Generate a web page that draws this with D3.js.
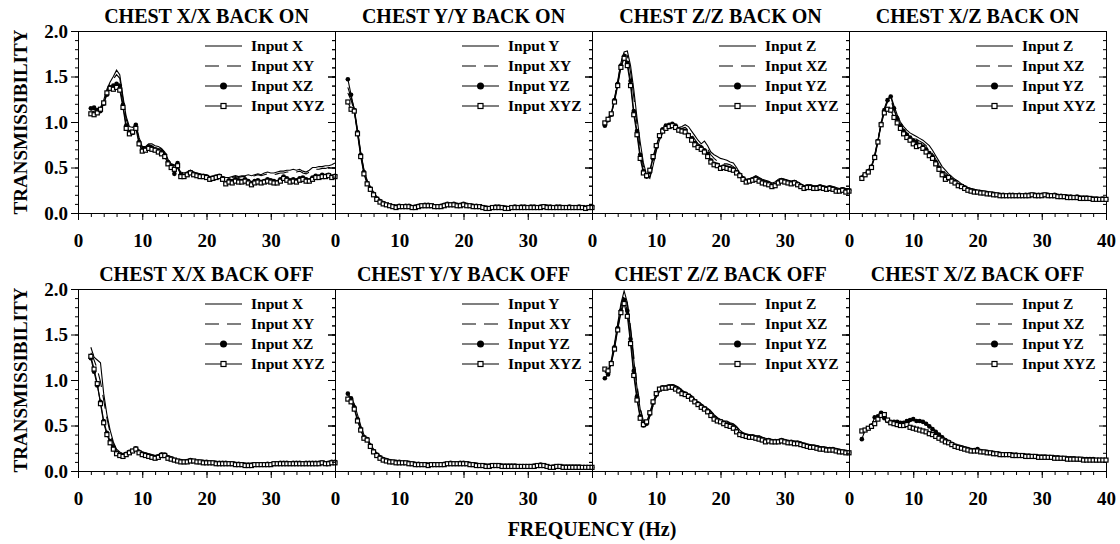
<!DOCTYPE html>
<html>
<head>
<meta charset="utf-8">
<script src="https://cdn.jsdelivr.net/npm/d3@7"></script>
<style>
  body { margin: 0; background: #fff; }
  svg { display: block; }
  text { font-family: "Liberation Serif", "Times New Roman", serif; font-weight: bold; fill: #000; }
</style>
</head>
<body>
<script>
// frequency (Hz) shared by every curve
var FREQ = [2,2.5,3,3.5,4,4.5,5,5.5,6,6.5,
  7,7.5,8,8.5,9,9.5,10,10.5,11,11.5,
  12,12.5,13,13.5,14,14.5,15,15.5,16,16.5,
  17,17.5,18,18.5,19,19.5,20,20.5,21,21.5,
  22,22.5,23,23.5,24,24.5,25,25.5,26,26.5,
  27,27.5,28,28.5,29,29.5,30,30.5,31,31.5,
  32,32.5,33,33.5,34,34.5,35,35.5,36,36.5,
  37,37.5,38,38.5,39,39.5,40];

var TITLES = ["CHEST X/X BACK ON","CHEST Y/Y BACK ON","CHEST Z/Z BACK ON","CHEST X/Z BACK ON",
  "CHEST X/X BACK OFF","CHEST Y/Y BACK OFF","CHEST Z/Z BACK OFF","CHEST X/Z BACK OFF"];
var LEG_X = ["Input X","Input XY","Input XZ","Input XYZ"];
var LEG_Y = ["Input Y","Input XY","Input YZ","Input XYZ"];
var LEG_Z = ["Input Z","Input XZ","Input YZ","Input XYZ"];
var X_TICKS = [0,10,20,30,40];
var Y_TICKS = [0,0.5,1,1.5,2];

// ---- CHEST X/X BACK ON
var p1_X = [1.10,1.12,1.12,1.16,1.24,1.36,1.44,1.50,1.57,1.52,
  1.28,1.06,0.95,0.94,0.98,0.83,0.73,0.73,0.76,0.76,
  0.74,0.73,0.71,0.67,0.59,0.54,0.53,0.50,0.45,0.44,
  0.45,0.47,0.45,0.44,0.43,0.42,0.42,0.40,0.40,0.41,
  0.42,0.40,0.39,0.39,0.40,0.41,0.40,0.41,0.41,0.42,
  0.41,0.42,0.43,0.42,0.44,0.45,0.44,0.44,0.45,0.46,
  0.46,0.47,0.47,0.48,0.47,0.48,0.46,0.45,0.47,0.50,
  0.50,0.51,0.51,0.52,0.52,0.53,0.55];
var p1_XY = [1.13,1.14,1.13,1.15,1.22,1.34,1.42,1.47,1.52,1.48,
  1.25,1.03,0.93,0.92,0.96,0.81,0.72,0.72,0.75,0.74,
  0.73,0.72,0.70,0.66,0.58,0.53,0.52,0.49,0.44,0.43,
  0.44,0.46,0.44,0.43,0.42,0.41,0.41,0.39,0.39,0.40,
  0.41,0.39,0.38,0.38,0.39,0.40,0.39,0.40,0.40,0.41,
  0.40,0.41,0.42,0.41,0.42,0.43,0.43,0.42,0.43,0.44,
  0.44,0.45,0.45,0.46,0.45,0.46,0.44,0.43,0.45,0.47,
  0.48,0.48,0.49,0.49,0.50,0.50,0.51];
var p1_XZ = [1.15,1.16,1.13,1.12,1.20,1.30,1.38,1.40,1.42,1.40,
  1.19,0.96,0.89,0.88,0.97,0.78,0.69,0.70,0.73,0.72,
  0.70,0.69,0.67,0.64,0.56,0.52,0.43,0.55,0.42,0.41,
  0.43,0.45,0.43,0.42,0.41,0.41,0.40,0.38,0.39,0.40,
  0.41,0.38,0.33,0.36,0.35,0.37,0.36,0.35,0.37,0.35,
  0.33,0.35,0.36,0.34,0.35,0.37,0.36,0.35,0.34,0.37,
  0.40,0.38,0.36,0.37,0.36,0.38,0.39,0.37,0.36,0.39,
  0.41,0.40,0.42,0.41,0.42,0.40,0.41];
var p1_XYZ = [1.09,1.08,1.10,1.14,1.21,1.32,1.37,1.36,1.38,1.35,
  1.16,0.93,0.87,0.89,0.93,0.76,0.68,0.69,0.71,0.70,
  0.69,0.67,0.65,0.62,0.54,0.50,0.48,0.52,0.40,0.40,
  0.42,0.44,0.42,0.41,0.40,0.40,0.39,0.37,0.38,0.39,
  0.40,0.37,0.32,0.34,0.33,0.35,0.34,0.34,0.35,0.33,
  0.31,0.33,0.34,0.33,0.34,0.35,0.34,0.33,0.33,0.35,
  0.38,0.36,0.34,0.35,0.34,0.36,0.37,0.35,0.35,0.37,
  0.39,0.39,0.40,0.40,0.41,0.39,0.40];

// ---- CHEST Y/Y BACK ON
var p2_Y = [1.38,1.27,1.15,0.92,0.67,0.48,0.36,0.29,0.23,0.18,
  0.15,0.12,0.10,0.09,0.08,0.08,0.08,0.08,0.09,0.08,
  0.07,0.07,0.08,0.09,0.09,0.10,0.09,0.08,0.08,0.09,
  0.09,0.10,0.10,0.11,0.10,0.09,0.10,0.10,0.09,0.09,
  0.08,0.08,0.07,0.07,0.06,0.07,0.07,0.08,0.07,0.07,
  0.06,0.07,0.07,0.07,0.08,0.07,0.07,0.08,0.07,0.07,
  0.08,0.08,0.07,0.08,0.07,0.07,0.08,0.07,0.07,0.07,
  0.06,0.07,0.07,0.07,0.06,0.07,0.07];
var p2_XY = [1.32,1.24,1.12,0.90,0.66,0.47,0.35,0.28,0.22,0.17,
  0.14,0.12,0.10,0.09,0.08,0.07,0.08,0.08,0.08,0.08,
  0.07,0.07,0.08,0.08,0.09,0.09,0.09,0.08,0.08,0.08,
  0.09,0.09,0.10,0.10,0.09,0.09,0.09,0.10,0.09,0.08,
  0.08,0.07,0.07,0.06,0.06,0.07,0.07,0.07,0.07,0.06,
  0.06,0.07,0.07,0.07,0.07,0.07,0.07,0.07,0.07,0.07,
  0.07,0.08,0.07,0.07,0.07,0.07,0.07,0.07,0.07,0.07,
  0.06,0.07,0.07,0.06,0.06,0.07,0.07];
var p2_YZ = [1.47,1.30,1.13,0.89,0.64,0.45,0.33,0.27,0.21,0.16,
  0.13,0.11,0.09,0.08,0.07,0.07,0.08,0.07,0.08,0.08,
  0.06,0.07,0.08,0.08,0.09,0.09,0.08,0.07,0.07,0.08,
  0.09,0.10,0.09,0.10,0.09,0.09,0.10,0.09,0.08,0.08,
  0.08,0.07,0.06,0.06,0.05,0.06,0.07,0.07,0.06,0.06,
  0.05,0.06,0.07,0.06,0.07,0.07,0.06,0.07,0.07,0.06,
  0.07,0.07,0.07,0.07,0.06,0.07,0.07,0.06,0.06,0.07,
  0.06,0.06,0.07,0.06,0.06,0.06,0.07];
var p2_XYZ = [1.22,1.14,1.12,0.87,0.62,0.43,0.32,0.26,0.20,0.15,
  0.12,0.10,0.09,0.08,0.07,0.06,0.07,0.07,0.07,0.07,
  0.06,0.06,0.07,0.08,0.08,0.08,0.08,0.07,0.07,0.07,
  0.08,0.09,0.09,0.09,0.08,0.08,0.09,0.08,0.08,0.07,
  0.07,0.07,0.06,0.05,0.05,0.06,0.06,0.06,0.06,0.05,
  0.05,0.06,0.06,0.06,0.06,0.06,0.06,0.06,0.06,0.06,
  0.06,0.07,0.06,0.06,0.06,0.06,0.06,0.06,0.06,0.06,
  0.06,0.06,0.06,0.06,0.05,0.06,0.06];

// ---- CHEST Z/Z BACK ON
var p3_Z = [0.97,1.03,1.10,1.25,1.43,1.65,1.77,1.78,1.62,1.36,
  1.05,0.78,0.55,0.42,0.38,0.52,0.68,0.80,0.88,0.92,
  0.94,0.95,0.95,0.94,0.95,0.97,0.95,0.90,0.85,0.80,
  0.76,0.79,0.74,0.67,0.64,0.62,0.60,0.59,0.58,0.56,
  0.55,0.50,0.44,0.40,0.37,0.37,0.39,0.41,0.39,0.37,
  0.36,0.35,0.33,0.34,0.37,0.38,0.37,0.36,0.35,0.36,
  0.34,0.32,0.30,0.31,0.31,0.30,0.30,0.31,0.30,0.29,
  0.30,0.29,0.28,0.27,0.28,0.27,0.27];
var p3_XZ = [0.98,1.04,1.10,1.26,1.45,1.66,1.75,1.73,1.55,1.28,
  0.98,0.72,0.51,0.41,0.40,0.55,0.70,0.82,0.89,0.93,
  0.95,0.96,0.94,0.92,0.93,0.94,0.91,0.86,0.81,0.76,
  0.74,0.74,0.70,0.64,0.60,0.57,0.55,0.54,0.54,0.53,
  0.51,0.48,0.43,0.39,0.36,0.36,0.38,0.40,0.38,0.36,
  0.35,0.34,0.32,0.33,0.36,0.37,0.36,0.35,0.34,0.35,
  0.33,0.31,0.29,0.30,0.30,0.29,0.29,0.30,0.29,0.28,
  0.29,0.28,0.27,0.26,0.27,0.26,0.26];
var p3_YZ = [0.96,1.02,1.08,1.24,1.42,1.62,1.72,1.65,1.45,1.12,
  0.90,0.64,0.46,0.40,0.45,0.60,0.73,0.84,0.92,0.96,
  0.97,0.98,0.96,0.92,0.91,0.90,0.86,0.82,0.77,0.73,
  0.72,0.69,0.65,0.58,0.54,0.53,0.50,0.51,0.50,0.49,
  0.48,0.45,0.42,0.38,0.35,0.36,0.37,0.38,0.36,0.34,
  0.33,0.32,0.30,0.31,0.34,0.36,0.35,0.34,0.33,0.34,
  0.32,0.30,0.28,0.29,0.29,0.28,0.28,0.29,0.28,0.27,
  0.28,0.27,0.25,0.25,0.26,0.24,0.25];
var p3_XYZ = [0.99,1.03,1.09,1.22,1.40,1.60,1.70,1.62,1.40,1.08,
  0.86,0.60,0.44,0.41,0.47,0.62,0.74,0.85,0.90,0.93,
  0.95,0.96,0.94,0.91,0.90,0.89,0.85,0.80,0.75,0.72,
  0.70,0.67,0.62,0.56,0.53,0.52,0.49,0.50,0.49,0.48,
  0.47,0.44,0.41,0.37,0.34,0.35,0.36,0.37,0.35,0.33,
  0.32,0.31,0.29,0.30,0.33,0.35,0.34,0.33,0.32,0.33,
  0.31,0.29,0.27,0.28,0.28,0.27,0.27,0.28,0.27,0.26,
  0.27,0.26,0.24,0.24,0.25,0.23,0.24];

// ---- CHEST X/Z BACK ON
var p4_Z = [0.40,0.43,0.46,0.52,0.63,0.80,0.99,1.15,1.25,1.29,
  1.18,1.08,1.00,0.95,0.91,0.88,0.86,0.84,0.82,0.80,
  0.77,0.74,0.69,0.63,0.57,0.51,0.47,0.43,0.40,0.37,
  0.35,0.32,0.30,0.28,0.27,0.26,0.25,0.24,0.24,0.23,
  0.22,0.22,0.21,0.21,0.21,0.20,0.20,0.21,0.21,0.20,
  0.20,0.20,0.20,0.21,0.21,0.20,0.21,0.21,0.21,0.21,
  0.21,0.20,0.20,0.19,0.19,0.19,0.18,0.18,0.18,0.18,
  0.17,0.17,0.17,0.17,0.16,0.16,0.16];
var p4_XZ = [0.41,0.44,0.47,0.53,0.64,0.81,0.98,1.13,1.22,1.25,
  1.13,1.04,0.97,0.92,0.88,0.85,0.83,0.81,0.79,0.77,
  0.74,0.70,0.65,0.59,0.53,0.48,0.44,0.41,0.38,0.35,
  0.33,0.31,0.29,0.27,0.26,0.25,0.24,0.23,0.23,0.22,
  0.22,0.21,0.21,0.20,0.20,0.20,0.20,0.20,0.20,0.20,
  0.20,0.20,0.20,0.20,0.21,0.20,0.20,0.21,0.20,0.20,
  0.20,0.20,0.19,0.19,0.19,0.18,0.18,0.18,0.17,0.17,
  0.17,0.17,0.16,0.16,0.16,0.16,0.15];
var p4_YZ = [0.39,0.42,0.46,0.51,0.62,0.79,0.98,1.13,1.24,1.28,
  1.15,1.04,0.96,0.90,0.86,0.83,0.80,0.78,0.75,0.73,
  0.70,0.66,0.62,0.56,0.50,0.44,0.40,0.38,0.36,0.34,
  0.31,0.30,0.28,0.26,0.25,0.24,0.23,0.23,0.22,0.22,
  0.21,0.21,0.20,0.20,0.20,0.19,0.20,0.20,0.19,0.20,
  0.19,0.20,0.20,0.20,0.20,0.20,0.20,0.20,0.20,0.19,
  0.20,0.19,0.19,0.18,0.18,0.18,0.17,0.18,0.17,0.17,
  0.17,0.16,0.16,0.16,0.15,0.16,0.15];
var p4_XYZ = [0.38,0.42,0.45,0.50,0.61,0.78,0.97,1.10,1.14,1.13,
  1.05,0.99,0.93,0.87,0.83,0.80,0.76,0.73,0.74,0.71,
  0.67,0.63,0.60,0.54,0.48,0.42,0.37,0.39,0.35,0.33,
  0.30,0.29,0.27,0.25,0.24,0.23,0.23,0.22,0.22,0.21,
  0.21,0.20,0.20,0.19,0.19,0.19,0.19,0.19,0.19,0.19,
  0.19,0.19,0.19,0.20,0.19,0.19,0.19,0.20,0.19,0.19,
  0.19,0.18,0.18,0.18,0.17,0.17,0.17,0.17,0.16,0.16,
  0.16,0.16,0.15,0.15,0.15,0.15,0.15];

// ---- CHEST X/X BACK OFF
var p5_X = [1.36,1.25,1.22,1.19,0.85,0.62,0.45,0.32,0.24,0.21,
  0.19,0.20,0.21,0.23,0.26,0.23,0.21,0.20,0.19,0.18,
  0.17,0.18,0.20,0.19,0.17,0.15,0.14,0.13,0.12,0.12,
  0.12,0.13,0.12,0.11,0.11,0.11,0.11,0.11,0.10,0.10,
  0.10,0.10,0.10,0.10,0.09,0.09,0.09,0.08,0.08,0.08,
  0.08,0.08,0.08,0.08,0.08,0.08,0.08,0.09,0.09,0.09,
  0.10,0.10,0.10,0.10,0.10,0.10,0.10,0.10,0.10,0.10,
  0.10,0.10,0.10,0.10,0.10,0.10,0.10];
var p5_XY = [1.30,1.22,1.12,0.98,0.78,0.58,0.42,0.30,0.23,0.20,
  0.18,0.19,0.20,0.22,0.25,0.22,0.20,0.19,0.18,0.17,
  0.16,0.17,0.19,0.18,0.16,0.14,0.13,0.12,0.11,0.11,
  0.11,0.12,0.11,0.11,0.10,0.10,0.10,0.10,0.10,0.09,
  0.09,0.09,0.09,0.09,0.09,0.08,0.08,0.08,0.07,0.07,
  0.07,0.08,0.08,0.08,0.08,0.08,0.08,0.08,0.09,0.09,
  0.09,0.09,0.09,0.09,0.09,0.09,0.09,0.09,0.09,0.09,
  0.09,0.09,0.09,0.09,0.09,0.09,0.10];
var p5_XZ = [1.24,1.09,0.94,0.76,0.55,0.42,0.33,0.26,0.20,0.18,
  0.17,0.19,0.21,0.22,0.25,0.21,0.19,0.18,0.17,0.16,
  0.15,0.16,0.18,0.18,0.15,0.14,0.12,0.11,0.11,0.10,
  0.11,0.12,0.11,0.10,0.10,0.10,0.10,0.09,0.09,0.09,
  0.09,0.09,0.09,0.08,0.08,0.08,0.08,0.07,0.07,0.07,
  0.07,0.07,0.07,0.07,0.07,0.08,0.07,0.08,0.08,0.09,
  0.09,0.09,0.08,0.09,0.09,0.09,0.08,0.09,0.09,0.09,
  0.09,0.09,0.09,0.08,0.09,0.10,0.10];
var p5_XYZ = [1.26,1.12,0.96,0.74,0.53,0.40,0.31,0.24,0.19,0.17,
  0.16,0.18,0.20,0.22,0.24,0.20,0.18,0.17,0.16,0.15,
  0.14,0.15,0.17,0.17,0.14,0.13,0.12,0.11,0.10,0.10,
  0.10,0.11,0.11,0.10,0.10,0.09,0.09,0.09,0.09,0.08,
  0.08,0.08,0.08,0.08,0.08,0.07,0.07,0.07,0.06,0.06,
  0.06,0.07,0.07,0.07,0.07,0.07,0.07,0.08,0.08,0.08,
  0.08,0.08,0.08,0.08,0.08,0.08,0.08,0.08,0.08,0.08,
  0.08,0.08,0.09,0.08,0.08,0.09,0.09];

// ---- CHEST Y/Y BACK OFF
var p6_Y = [0.82,0.80,0.74,0.62,0.50,0.40,0.36,0.30,0.24,0.20,
  0.17,0.14,0.13,0.12,0.11,0.11,0.10,0.10,0.10,0.10,
  0.09,0.09,0.09,0.08,0.08,0.08,0.08,0.08,0.08,0.08,
  0.08,0.09,0.09,0.09,0.09,0.09,0.09,0.10,0.09,0.08,
  0.08,0.07,0.07,0.07,0.06,0.07,0.07,0.07,0.07,0.06,
  0.06,0.06,0.06,0.06,0.06,0.06,0.06,0.05,0.06,0.07,
  0.07,0.07,0.06,0.05,0.05,0.05,0.06,0.06,0.05,0.05,
  0.05,0.05,0.05,0.05,0.05,0.04,0.05];
var p6_XY = [0.80,0.78,0.71,0.60,0.48,0.39,0.35,0.29,0.23,0.19,
  0.16,0.14,0.12,0.11,0.11,0.10,0.10,0.10,0.09,0.09,
  0.09,0.08,0.08,0.08,0.08,0.07,0.07,0.07,0.08,0.08,
  0.08,0.08,0.09,0.08,0.08,0.08,0.09,0.09,0.08,0.08,
  0.07,0.07,0.06,0.06,0.06,0.06,0.06,0.06,0.06,0.06,
  0.06,0.06,0.06,0.06,0.05,0.05,0.05,0.05,0.06,0.06,
  0.06,0.06,0.05,0.05,0.05,0.05,0.05,0.05,0.05,0.05,
  0.05,0.05,0.05,0.04,0.04,0.04,0.04];
var p6_YZ = [0.85,0.80,0.70,0.57,0.46,0.37,0.35,0.28,0.22,0.18,
  0.15,0.13,0.12,0.11,0.10,0.10,0.10,0.09,0.09,0.09,
  0.08,0.08,0.08,0.07,0.07,0.07,0.07,0.07,0.07,0.07,
  0.08,0.08,0.09,0.08,0.08,0.09,0.09,0.08,0.08,0.07,
  0.07,0.06,0.06,0.06,0.06,0.06,0.06,0.06,0.06,0.06,
  0.06,0.06,0.06,0.05,0.05,0.05,0.05,0.05,0.06,0.06,
  0.07,0.06,0.05,0.04,0.05,0.05,0.05,0.05,0.05,0.05,
  0.05,0.05,0.05,0.04,0.04,0.04,0.04];
var p6_XYZ = [0.79,0.76,0.68,0.55,0.45,0.36,0.34,0.27,0.21,0.17,
  0.14,0.12,0.11,0.10,0.10,0.09,0.09,0.09,0.09,0.08,
  0.08,0.07,0.07,0.07,0.07,0.06,0.07,0.07,0.07,0.07,
  0.07,0.08,0.08,0.08,0.08,0.08,0.08,0.08,0.07,0.07,
  0.06,0.06,0.06,0.05,0.05,0.06,0.06,0.06,0.05,0.05,
  0.05,0.05,0.05,0.05,0.05,0.05,0.05,0.05,0.05,0.06,
  0.06,0.06,0.05,0.04,0.04,0.05,0.05,0.04,0.04,0.04,
  0.04,0.04,0.04,0.04,0.04,0.04,0.04];

// ---- CHEST Z/Z BACK OFF
var p7_Z = [1.08,1.10,1.22,1.40,1.62,1.84,1.98,1.85,1.55,1.22,
  0.92,0.68,0.53,0.50,0.60,0.72,0.82,0.88,0.92,0.93,
  0.94,0.95,0.94,0.92,0.89,0.86,0.84,0.83,0.79,0.76,
  0.74,0.71,0.69,0.66,0.62,0.59,0.56,0.55,0.55,0.53,
  0.52,0.49,0.45,0.42,0.40,0.40,0.39,0.38,0.39,0.37,
  0.36,0.35,0.34,0.34,0.34,0.34,0.34,0.33,0.33,0.33,
  0.33,0.32,0.30,0.29,0.29,0.28,0.28,0.27,0.26,0.26,
  0.25,0.25,0.24,0.24,0.23,0.22,0.22];
var p7_XZ = [1.10,1.09,1.20,1.38,1.60,1.80,1.93,1.84,1.58,1.26,
  0.95,0.70,0.55,0.51,0.60,0.72,0.81,0.87,0.91,0.92,
  0.93,0.94,0.93,0.91,0.88,0.86,0.84,0.82,0.78,0.75,
  0.73,0.70,0.68,0.65,0.61,0.58,0.56,0.55,0.54,0.52,
  0.51,0.48,0.44,0.41,0.40,0.39,0.39,0.38,0.38,0.36,
  0.35,0.35,0.34,0.33,0.33,0.34,0.33,0.33,0.33,0.32,
  0.32,0.31,0.30,0.29,0.28,0.28,0.27,0.26,0.26,0.25,
  0.25,0.24,0.24,0.23,0.22,0.22,0.21];
var p7_YZ = [1.02,1.06,1.19,1.36,1.57,1.76,1.88,1.76,1.45,1.10,
  0.82,0.60,0.50,0.52,0.63,0.75,0.84,0.90,0.92,0.92,
  0.93,0.93,0.91,0.88,0.86,0.85,0.83,0.80,0.77,0.74,
  0.71,0.69,0.66,0.62,0.58,0.56,0.55,0.53,0.51,0.50,
  0.48,0.44,0.41,0.40,0.39,0.38,0.38,0.37,0.36,0.35,
  0.33,0.34,0.33,0.33,0.33,0.34,0.33,0.32,0.32,0.31,
  0.31,0.30,0.29,0.28,0.27,0.27,0.26,0.25,0.25,0.24,
  0.24,0.24,0.23,0.22,0.21,0.21,0.20];
var p7_XYZ = [1.12,1.10,1.18,1.34,1.55,1.74,1.84,1.70,1.40,1.05,
  0.78,0.58,0.51,0.54,0.64,0.76,0.85,0.90,0.91,0.91,
  0.92,0.92,0.90,0.88,0.85,0.84,0.82,0.79,0.76,0.73,
  0.70,0.68,0.65,0.61,0.57,0.55,0.54,0.52,0.50,0.49,
  0.47,0.43,0.40,0.39,0.38,0.37,0.37,0.36,0.35,0.34,
  0.32,0.33,0.32,0.32,0.32,0.33,0.32,0.31,0.31,0.30,
  0.30,0.29,0.28,0.27,0.26,0.26,0.25,0.24,0.24,0.23,
  0.23,0.23,0.22,0.21,0.21,0.20,0.20];

// ---- CHEST X/Z BACK OFF
var p8_Z = [0.45,0.46,0.48,0.50,0.53,0.58,0.63,0.60,0.57,0.55,
  0.55,0.54,0.53,0.53,0.54,0.55,0.56,0.56,0.55,0.55,
  0.53,0.50,0.47,0.44,0.41,0.38,0.35,0.33,0.31,0.29,
  0.28,0.27,0.26,0.25,0.24,0.23,0.23,0.23,0.22,0.21,
  0.21,0.20,0.20,0.19,0.19,0.19,0.19,0.19,0.18,0.18,
  0.18,0.18,0.17,0.17,0.17,0.17,0.16,0.16,0.16,0.16,
  0.15,0.15,0.15,0.15,0.15,0.14,0.14,0.14,0.14,0.14,
  0.13,0.13,0.13,0.13,0.13,0.13,0.13];
var p8_XZ = [0.44,0.46,0.48,0.51,0.56,0.60,0.62,0.59,0.56,0.54,
  0.53,0.51,0.51,0.51,0.52,0.54,0.55,0.55,0.54,0.53,
  0.51,0.48,0.45,0.42,0.39,0.36,0.34,0.32,0.30,0.28,
  0.27,0.26,0.25,0.24,0.23,0.22,0.22,0.22,0.21,0.21,
  0.20,0.20,0.19,0.19,0.19,0.18,0.18,0.18,0.18,0.18,
  0.17,0.17,0.17,0.17,0.16,0.16,0.16,0.16,0.15,0.15,
  0.15,0.15,0.15,0.14,0.14,0.14,0.14,0.14,0.13,0.13,
  0.13,0.13,0.13,0.13,0.12,0.12,0.12];
var p8_YZ = [0.35,0.45,0.47,0.50,0.59,0.60,0.64,0.58,0.55,0.54,
  0.54,0.54,0.53,0.53,0.55,0.56,0.57,0.55,0.55,0.54,
  0.52,0.49,0.46,0.43,0.40,0.37,0.34,0.32,0.30,0.28,
  0.27,0.26,0.25,0.24,0.23,0.23,0.24,0.22,0.21,0.21,
  0.20,0.20,0.19,0.19,0.18,0.18,0.18,0.18,0.18,0.17,
  0.17,0.17,0.17,0.16,0.16,0.16,0.16,0.16,0.15,0.15,
  0.15,0.15,0.14,0.14,0.14,0.14,0.14,0.13,0.13,0.13,
  0.13,0.13,0.13,0.12,0.12,0.12,0.12];
var p8_XYZ = [0.44,0.45,0.47,0.49,0.52,0.57,0.61,0.62,0.56,0.53,
  0.52,0.51,0.50,0.50,0.51,0.48,0.47,0.46,0.45,0.44,
  0.43,0.41,0.40,0.38,0.36,0.34,0.32,0.31,0.29,0.27,
  0.26,0.25,0.24,0.23,0.22,0.22,0.22,0.21,0.21,0.20,
  0.20,0.19,0.19,0.18,0.18,0.18,0.18,0.17,0.17,0.17,
  0.17,0.16,0.16,0.16,0.16,0.15,0.15,0.15,0.15,0.15,
  0.14,0.14,0.14,0.14,0.13,0.13,0.13,0.13,0.13,0.12,
  0.12,0.12,0.12,0.12,0.12,0.12,0.12];

var panels = [
  { title: TITLES[0], legend: LEG_X, series: [p1_X, p1_XY, p1_XZ, p1_XYZ] },
  { title: TITLES[1], legend: LEG_Y, series: [p2_Y, p2_XY, p2_YZ, p2_XYZ] },
  { title: TITLES[2], legend: LEG_Z, series: [p3_Z, p3_XZ, p3_YZ, p3_XYZ] },
  { title: TITLES[3], legend: LEG_Z, series: [p4_Z, p4_XZ, p4_YZ, p4_XYZ] },
  { title: TITLES[4], legend: LEG_X, series: [p5_X, p5_XY, p5_XZ, p5_XYZ] },
  { title: TITLES[5], legend: LEG_Y, series: [p6_Y, p6_XY, p6_YZ, p6_XYZ] },
  { title: TITLES[6], legend: LEG_Z, series: [p7_Z, p7_XZ, p7_YZ, p7_XYZ] },
  { title: TITLES[7], legend: LEG_Z, series: [p8_Z, p8_XZ, p8_YZ, p8_XYZ] }
];

var width = 1120, height = 544;
var LEFT = 78, PW = 257, PH = 182;
var ROW_TOP = [31, 289];

var svg = d3.select('body').append('svg')
    .attr('width', width)
    .attr('height', height);

var x = d3.scaleLinear().domain([0, 40]).range([0, PW]);
var y = d3.scaleLinear().domain([0, 2]).range([PH, 0]);

var line = d3.line()
    .x(function(d){ return x(d[0]); })
    .y(function(d){ return y(d[1]); });

var xMinor = d3.range(0, 41, 2);
var yMinor = d3.range(0, 2.01, 0.1);

panels.forEach(function(p, k){
    var col = k % 4, row = Math.floor(k / 4);
    var g = svg.append('g')
        .attr('transform', 'translate(' + (LEFT + col * PW) + ',' + ROW_TOP[row] + ')');

    // frame
    g.append('rect')
        .attr('x', 0.5).attr('y', 0.5)
        .attr('width', PW).attr('height', PH)
        .attr('fill', 'none').attr('stroke', 'black').attr('stroke-width', 1);

    // bottom axis: minor then major
    g.append('g').attr('transform', 'translate(0,' + PH + ')')
        .call(d3.axisBottom(x).tickValues(xMinor).tickSize(4).tickFormat(''));
    var xa = g.append('g').attr('transform', 'translate(0,' + PH + ')')
        .call(d3.axisBottom(x)
            .tickValues(col == 3 ? X_TICKS : X_TICKS.slice(0, 4))
            .tickSize(7).tickPadding(14).tickFormat(d3.format('d')));
    xa.selectAll('text').style('font-size', '19px');

    // left axis (ticks outward)
    g.append('g')
        .call(d3.axisLeft(y).tickValues(yMinor).tickSize(3).tickFormat(''));
    var ya = g.append('g')
        .call(d3.axisLeft(y).tickValues(Y_TICKS).tickSize(7).tickPadding(3)
            .tickFormat(col == 0 ? d3.format('.1f') : ''));
    ya.selectAll('text').style('font-size', '19px');

    // right side ticks (inward)
    g.append('g').attr('transform', 'translate(' + PW + ',0)')
        .call(d3.axisLeft(y).tickValues(yMinor).tickSize(3).tickFormat(''));
    g.append('g').attr('transform', 'translate(' + PW + ',0)')
        .call(d3.axisLeft(y).tickValues(Y_TICKS).tickSize(7).tickFormat(''));

    g.selectAll('.domain').remove();
    g.selectAll('.tick line').attr('stroke', 'black');

    // title
    g.append('text')
        .attr('x', PW / 2).attr('y', -8)
        .attr('text-anchor', 'middle')
        .style('font-size', '20px')
        .text(p.title);

    // series
    p.series.forEach(function(vals, s){
        var pts = vals.map(function(v, i){ return [FREQ[i], v]; })
            .filter(function(d){ return d[0] != null; });
        g.append('path').datum(pts)
            .attr('d', line)
            .attr('fill', 'none')
            .attr('stroke', 'black')
            .attr('stroke-width', 1.1)
            .attr('stroke-dasharray', s == 1 ? '14,8' : null);
        if (s == 2) {
            g.selectAll('.c' + s).data(pts).enter().append('circle')
                .attr('cx', function(d){ return x(d[0]); })
                .attr('cy', function(d){ return y(d[1]); })
                .attr('r', 2.3)
                .attr('fill', 'black');
        }
        if (s == 3) {
            g.selectAll('.q' + s).data(pts).enter().append('rect')
                .attr('x', function(d){ return x(d[0]) - 2; })
                .attr('y', function(d){ return y(d[1]) - 2; })
                .attr('width', 4).attr('height', 4)
                .attr('fill', 'white').attr('stroke', 'black').attr('stroke-width', 1.2);
        }
    });

    // legend
    p.legend.forEach(function(name, s){
        var ly = 15 + s * 20;
        g.append('line')
            .attr('x1', 127).attr('x2', 164)
            .attr('y1', ly).attr('y2', ly)
            .attr('stroke', 'black').attr('stroke-width', 1.1)
            .attr('stroke-dasharray', s == 1 ? '14,8' : null);
        if (s == 2) {
            g.append('circle').attr('cx', 145.5).attr('cy', ly).attr('r', 3.5).attr('fill', 'black');
        }
        if (s == 3) {
            g.append('rect').attr('x', 143).attr('y', ly - 2.5).attr('width', 5).attr('height', 5)
                .attr('fill', 'white').attr('stroke', 'black').attr('stroke-width', 1.2);
        }
        g.append('text')
            .attr('x', 173).attr('y', ly)
            .attr('dy', '0.35em')
            .style('font-size', '15.5px')
            .text(name);
    });
});

// y axis titles
ROW_TOP.forEach(function(top){
    svg.append('text')
        .attr('transform', 'translate(27,' + (top + PH / 2) + ') rotate(-90)')
        .attr('text-anchor', 'middle')
        .style('font-size', '19px')
        .text('TRANSMISSIBILITY');
});

// x axis title
svg.append('text')
    .attr('x', LEFT + 2 * PW).attr('y', 536)
    .attr('text-anchor', 'middle')
    .style('font-size', '20px')
    .text('FREQUENCY (Hz)');
</script>
</body>
</html>
